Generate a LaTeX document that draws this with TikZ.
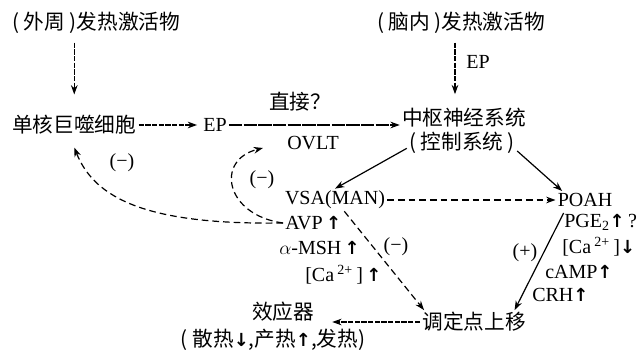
\documentclass[tikz,border=0pt]{standalone}
\usepackage{fontspec}
\setmainfont{Liberation Serif}
\newfontfamily\cjk{Noto Sans CJK SC}
\newfontfamily\arrfont{DejaVu Sans}
\usetikzlibrary{arrows.meta}
\newcommand{\ua}{{\arrfont\bfseries\fontsize{13.5}{13.5}\selectfont ↑}}
\newcommand{\da}{{\arrfont\bfseries\fontsize{13.5}{13.5}\selectfont ↓}}
\begin{document}
\begin{tikzpicture}[x=0.75pt,y=-0.75pt,
  font=\fontsize{15}{18}\selectfont,
  every node/.style={inner sep=1.5pt},
  zh/.style={font=\cjk\fontsize{15.5}{18}\selectfont},
  arr/.style={-{Stealth[length=7pt,width=5pt]}, line width=0.9pt},
  dense/.style={arr, dash pattern=on 4pt off 1pt},
  fb/.style={arr, dash pattern=on 5pt off 3pt}]
\useasboundingbox (0,0) rectangle (637,352);

% nodes
\node[zh, anchor=west] (outer) at (10,23) {( 外周 )发热激活物};
\node[zh, anchor=west] (mono) at (10,125) {单核巨噬细胞};
\node (ep1) at (215,125) {EP};
\node[zh] (cns) at (464,118) {中枢神经系统};
\node[zh] (ctrl) at (462,143) {( 控制系统 )};
\node[zh] (brain) at (461,23) {( 脑内 )发热激活物};
\node (vsa) at (335,200) {VSA(MAN)};
\node (poah) at (585,200) {POAH};
\node[anchor=west] (avp) at (283,223) {AVP\,\ua};
\node[anchor=west] (msh) at (277,248) {$\alpha$-MSH\,\ua};
\node[anchor=west] (ca1) at (303,275) {[Ca\,\textsuperscript{2+}\,]\,\ua};
\node[zh] (setpt) at (474,322) {调定点上移};
\node[zh] (eff) at (283,312) {效应器};
\node[zh] (effd) at (273,340) {( 散热\da,产热\ua,发热)};
\node[anchor=west] (pge) at (562,222) {PGE\textsubscript{2}\ua\,?};
\node[anchor=west] (ca2) at (560,247) {[Ca\,\textsuperscript{2+}\,]\da};
\node[anchor=west] (camp) at (543,272) {cAMP\ua};
\node[anchor=west] (crh) at (530,295) {CRH\ua};

% labels
\node[zh] (zhijie) at (300,102) {直接？};
\node (ovlt) at (313,143) {OVLT};
\node (eplab) at (478,62) {EP};
\node (m1) at (122,163) {(−)};
\node (m2) at (262,180) {(−)};
\node (m3) at (396,247) {(−)};
\node (p1) at (525,253) {(+)};

% connectors
\draw[dense, shorten <=5pt, shorten >=14pt] (mono.north |- outer.south) -- (mono.north);
\draw[dense, shorten >=3pt] (mono.east) -- (ep1.west);
\draw[arr, dash pattern=on 10pt off 1pt] (ep1.east) -- (ep1.east -| cns.west);
\coordinate (bx) at ([xshift=-4.5pt]brain.south);
\draw[dense, shorten <=5pt, shorten >=9pt] (bx) -- (bx |- cns.north);
\draw[arr] ([yshift=-4pt]ctrl.west) -- (vsa.north);
\draw[arr] ([yshift=-6pt]ctrl.east) -- ([xshift=5pt]poah.north west);
\draw[fb] (vsa.east) -- (poah.west);
\draw[fb] ([xshift=7pt]vsa.south) -- ([xshift=3pt]setpt.north west);
\draw[arr] ([xshift=-16pt,yshift=-3pt]poah.south) -- ([xshift=-10pt]setpt.north east);
\draw[dense, shorten >=12pt] (setpt.west) -- (setpt.west -| eff.east);
\draw[fb] (avp.west) .. controls (150,225) and (95,200) .. ([yshift=-8pt]mono.south);
\coordinate (ovltin) at (263,148);
\draw[fb] (avp.west) .. controls (225,215) and (215,160) .. (ovltin);
\end{tikzpicture}
\end{document}
